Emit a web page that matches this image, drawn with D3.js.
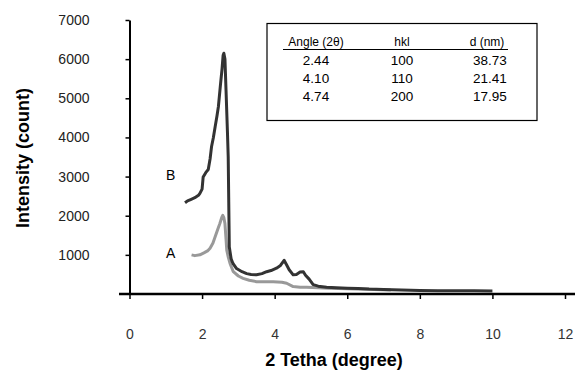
<!DOCTYPE html>
<html>
<head>
<meta charset="utf-8">
<script src="https://cdn.jsdelivr.net/npm/d3@7"></script>
<style>
  body { margin: 0; background: #fff; }
  text { font-family: Arial, "Liberation Sans", sans-serif; }
</style>
</head>
<body>
<div id="chart"></div>
<script>
// Data
var xTicks = [0, 2, 4, 6, 8, 10, 12];
var yTicks = [1000, 2000, 3000, 4000, 5000, 6000, 7000];

// Sample B (dark)
var bAngle = [1.53, 1.6, 1.7, 1.8, 1.9, 1.94, 2.0, 2.03, 2.1, 2.17, 2.22, 2.26, 2.31, 2.36, 2.41, 2.45, 2.51, 2.55, 2.58, 2.6, 2.63, 2.66, 2.7, 2.72, 2.75, 2.8, 2.85, 2.95, 3.1, 3.23, 3.35, 3.5, 3.65, 3.78, 3.9, 4.05, 4.15, 4.26, 4.32, 4.4, 4.51, 4.6, 4.7, 4.79, 4.85, 4.95, 5.06, 5.2, 5.43, 5.7, 6.0, 6.3, 6.6, 7.0, 7.5, 8, 8.5, 9, 9.5, 10];
var bCount = [2330, 2380, 2420, 2460, 2520, 2570, 2680, 2990, 3100, 3180, 3450, 3760, 3990, 4270, 4550, 4790, 5380, 5750, 6100, 6150, 6000, 5200, 4100, 3500, 1200, 900, 780, 650, 570, 520, 500, 490, 520, 570, 600, 660, 720, 860, 760, 620, 490, 500, 560, 570, 480, 380, 240, 200, 170, 160, 150, 140, 125, 115, 100, 90, 85, 80, 80, 75];

// Sample A (gray)
var aAngle = [1.71, 1.8, 1.94, 2.05, 2.15, 2.22, 2.3, 2.36, 2.43, 2.49, 2.54, 2.57, 2.6, 2.63, 2.66, 2.68, 2.72, 2.77, 2.86, 3.0, 3.13, 3.3, 3.5, 3.75, 3.96, 4.2, 4.33, 4.51, 4.7, 4.88, 5.2, 5.5, 6.0, 6.5, 7.2];
var aCount = [1000, 980, 1000, 1050, 1100, 1170, 1300, 1460, 1650, 1800, 1950, 2010, 1950, 1800, 1400, 1120, 950, 780, 570, 460, 400, 350, 315, 310, 315, 300, 275, 190, 175, 170, 160, 150, 135, 120, 100];

// Inset table
var tableHead = ["Angle (2θ)", "hkl", "d (nm)"];
var tableAngle = ["2.44", "4.10", "4.74"];
var tableHkl = ["100", "110", "200"];
var tableD = ["38.73", "21.41", "17.95"];

var svgWidth = 579;
var svgHeight = 371;

var svg = d3.select("#chart")
  .append("svg")
  .attr("width", svgWidth)
  .attr("height", svgHeight);

var xScale = d3.scaleLinear().domain([0, 12]).range([129.5, 565]);
var yScale = d3.scaleLinear().domain([0, 7000]).range([294, 20]);

// x axis
var xAxis = svg.append("g")
  .attr("transform", "translate(0,294)")
  .call(d3.axisBottom(xScale).tickValues(xTicks).tickSize(5).tickSizeOuter(0).tickPadding(30));
xAxis.select(".domain").remove();
xAxis.selectAll(".tick line").attr("stroke", "#000").attr("stroke-width", 1.5);
xAxis.selectAll(".tick text").attr("font-size", 14).attr("fill", "#333")
  .attr("font-family", "Arial, 'Liberation Sans', sans-serif");
svg.append("line")
  .attr("x1", 119).attr("x2", 575)
  .attr("y1", 294).attr("y2", 294)
  .attr("stroke", "#000").attr("stroke-width", 2.5);

// y axis
var yAxis = svg.append("g")
  .attr("transform", "translate(129.5,0)")
  .call(d3.axisLeft(yScale).tickValues(yTicks).tickFormat(d3.format("d")).tickSize(4).tickSizeOuter(0).tickPadding(36));
yAxis.select(".domain").attr("stroke", "#000").attr("stroke-width", 2);
yAxis.selectAll(".tick line").attr("stroke", "#000").attr("stroke-width", 1.5);
yAxis.selectAll(".tick text").attr("font-size", 14).attr("fill", "#222")
  .attr("font-family", "Arial, 'Liberation Sans', sans-serif");

// lines
var line = d3.line()
  .x(d => xScale(d[0]))
  .y(d => yScale(d[1]));

svg.append("path")
  .datum(d3.zip(aAngle, aCount))
  .attr("d", line)
  .attr("fill", "none")
  .attr("stroke", "#999")
  .attr("stroke-width", 3)
  .attr("stroke-linejoin", "round");

svg.append("path")
  .datum(d3.zip(bAngle, bCount))
  .attr("d", line)
  .attr("fill", "none")
  .attr("stroke", "#333")
  .attr("stroke-width", 3)
  .attr("stroke-linejoin", "round");

// series labels
svg.append("text").attr("x", 166).attr("y", 180).attr("font-size", 14).text("B");
svg.append("text").attr("x", 166).attr("y", 258).attr("font-size", 14).text("A");

// axis titles
svg.append("text")
  .attr("transform", "translate(29,158) rotate(-90)")
  .attr("text-anchor", "middle")
  .attr("font-size", 18)
  .attr("font-weight", "bold")
  .text("Intensity (count)");

svg.append("text")
  .attr("x", 334).attr("y", 366)
  .attr("text-anchor", "middle")
  .attr("font-size", 18)
  .attr("font-weight", "bold")
  .text("2 Tetha (degree)");

// inset table
var table = svg.append("g");
table.append("rect")
  .attr("x", 267).attr("y", 23.5)
  .attr("width", 270).attr("height", 97)
  .attr("fill", "#fff").attr("stroke", "#000").attr("stroke-width", 1.2);

var colX = [316, 402, 487];
table.selectAll(".head")
  .data(tableHead)
  .enter().append("text")
  .attr("x", (d, i) => colX[i])
  .attr("y", 46)
  .attr("text-anchor", "middle")
  .attr("font-size", 12)
  .text(d => d);
table.append("line")
  .attr("x1", 283).attr("x2", 508)
  .attr("y1", 49.5).attr("y2", 49.5)
  .attr("stroke", "#000").attr("stroke-width", 1);

var rows = d3.range(tableAngle.length);
rows.forEach(function(i) {
  var y = 65 + i * 18;
  table.append("text").attr("x", colX[0]).attr("y", y).attr("text-anchor", "middle").attr("font-size", 13.5).text(tableAngle[i]);
  table.append("text").attr("x", colX[1]).attr("y", y).attr("text-anchor", "middle").attr("font-size", 13.5).text(tableHkl[i]);
  table.append("text").attr("x", 490).attr("y", y).attr("text-anchor", "middle").attr("font-size", 13.5).text(tableD[i]);
});
</script>
</body>
</html>
